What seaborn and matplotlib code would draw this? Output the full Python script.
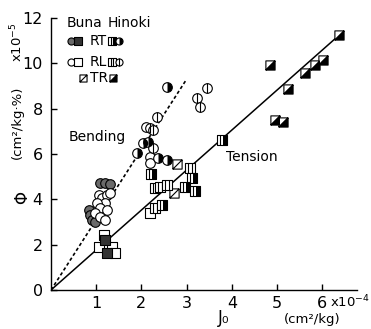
import matplotlib
matplotlib.use("Agg")
import matplotlib.pyplot as plt
from matplotlib.path import Path
from matplotlib.markers import MarkerStyle
import seaborn as sns

# ---------------- data ----------------
buna_rt_circle_x = [1.09, 1.20, 1.31, 0.83, 0.87, 0.91, 0.98]
buna_rt_circle_y = [4.71, 4.74, 4.68, 3.53, 3.31, 3.09, 3.02]
buna_rl_circle_x = [1.06, 1.13, 1.24, 1.31, 1.20, 1.02, 1.09, 1.24, 0.98, 1.09, 1.20, 2.09, 2.19, 2.19]
buna_rl_circle_y = [4.19, 4.05, 4.19, 4.27, 3.83, 3.83, 3.61, 3.53, 3.39, 3.24, 3.09, 7.21, 5.86, 5.59]
buna_rt_square_x = [1.20, 1.24]
buna_rt_square_y = [2.21, 1.62]
buna_rl_square_x = [1.17, 1.06, 1.35, 1.42, 2.19]
buna_rl_square_y = [2.43, 1.91, 1.91, 1.62, 3.39]
buna_tr_x = [2.78, 2.71]
buna_tr_y = [5.55, 4.27]
hinoki_rt_square_x = [3.78, 2.21, 3.11, 2.96, 3.19, 2.45]
hinoki_rt_square_y = [6.62, 5.13, 4.93, 4.53, 4.38, 3.75]
hinoki_rl_square_x = [3.07, 2.30, 2.41, 2.56, 2.30]
hinoki_rl_square_y = [5.37, 4.49, 4.56, 4.64, 3.61]
hinoki_rt_circle_x = [2.56, 2.04, 2.15, 1.90, 2.37, 2.56]
hinoki_rt_circle_y = [8.95, 6.48, 6.55, 6.03, 5.81, 5.74]
hinoki_rl_circle_x = [3.44, 3.22, 3.30, 2.35, 2.19, 2.26, 2.26]
hinoki_rl_circle_y = [8.90, 8.46, 8.07, 7.62, 7.14, 7.06, 6.25]
hinoki_tr_x = [6.36, 4.85, 5.62, 5.84, 6.02, 5.24, 4.96, 5.14]
hinoki_tr_y = [11.26, 9.93, 9.59, 9.93, 10.15, 8.86, 7.50, 7.43]

tension_line_x = [0, 6.35]
tension_line_y = [0, 11.2]
bending_line_x = [0, 3.0]
bending_line_y = [0, 9.3]

x_ticks = [1, 2, 3, 4, 5, 6]
y_ticks = [0, 2, 4, 6, 8, 10, 12]

# ---------------- marker shapes ----------------
def square_path(lines=()):
    verts = [(-1, -1), (1, -1), (1, 1), (-1, 1), (-1, -1)]
    codes = [Path.MOVETO, Path.LINETO, Path.LINETO, Path.LINETO, Path.CLOSEPOLY]
    for a, b in lines:
        verts += [a, b]
        codes += [Path.MOVETO, Path.LINETO]
    return Path(verts, codes)

SQ = square_path()
SQ_V = square_path([((-0.33, -1), (-0.33, 1)), ((0.33, -1), (0.33, 1))])
SQ_D = square_path([((-1, -1), (1, 1))])
HALF_RECT = Path([(0.3, -1), (1, -1), (1, 1), (0.3, 1), (0.3, -1)],
                 [Path.MOVETO, Path.LINETO, Path.LINETO, Path.LINETO, Path.CLOSEPOLY])
TRI = Path([(-1, -1), (1, -1), (1, 1), (-1, -1)],
           [Path.MOVETO, Path.LINETO, Path.LINETO, Path.CLOSEPOLY])
CIRC_R = MarkerStyle('o', fillstyle='right')

sns.set_style("ticks")
plt.rcParams['font.family'] = ['DejaVu Sans']

fig = plt.figure(figsize=(3.71, 3.29), dpi=100)
ax = fig.add_axes([0.1375, 0.1185, 0.825, 0.827])

LW = 0.8
SC = 48  # circle size
SS = 44  # square size


def layer(x, y, marker, s, face, edge='black', lw=LW, z=3):
    sns.scatterplot(x=x, y=y, marker=marker, s=s, color=face, edgecolor=edge,
                    linewidth=lw, ax=ax, zorder=z, legend=False)


# lines
sns.lineplot(x=tension_line_x, y=tension_line_y, ax=ax, color='black', lw=1.1, zorder=2)
sns.lineplot(x=bending_line_x, y=bending_line_y, ax=ax, color='black', lw=1.2,
             linestyle=(0, (2.0, 1.5)), zorder=2)

# points
layer(buna_rt_circle_x, buna_rt_circle_y, 'o', SC, '#6a6a6a')
layer(buna_rl_circle_x, buna_rl_circle_y, 'o', SC, 'white')
layer(buna_rl_square_x, buna_rl_square_y, SQ, SS, 'white')
layer(buna_rt_square_x, buna_rt_square_y, SQ, SS, '#333333')
layer(buna_tr_x, buna_tr_y, SQ_D, SS, 'white')
layer(hinoki_rl_square_x, hinoki_rl_square_y, SQ_V, SS, 'white')
layer(hinoki_rt_square_x, hinoki_rt_square_y, SQ_V, SS, 'white')
layer(hinoki_rt_square_x, hinoki_rt_square_y, HALF_RECT, SS, 'black', lw=0, z=3.1)
layer(hinoki_rt_circle_x, hinoki_rt_circle_y, 'o', SC, 'white')
layer(hinoki_rt_circle_x, hinoki_rt_circle_y, CIRC_R, SC, 'black', lw=0, z=3.1)
layer(hinoki_rl_circle_x, hinoki_rl_circle_y, 'o', SC, 'white')
layer(hinoki_rl_circle_x, hinoki_rl_circle_y, '|', SC, 'black', lw=LW, z=3.1)
layer(hinoki_tr_x, hinoki_tr_y, SQ_D, SS, 'white')
layer(hinoki_tr_x, hinoki_tr_y, TRI, SS, 'black', lw=0, z=3.1)

ax.set_xlim(0, 6.77)
ax.set_ylim(0, 12)
ax.set_xticks(x_ticks)
ax.set_xticklabels([str(v) for v in x_ticks])
ax.set_yticks(y_ticks)
ax.set_yticklabels([str(v) for v in y_ticks])
ax.tick_params(direction='in', length=4, width=1, labelsize=11.5, colors='black')
ax.tick_params(axis='y', pad=6)
ax.tick_params(axis='x', pad=4)
sns.despine(ax=ax)
for sp in ['left', 'bottom']:
    ax.spines[sp].set_linewidth(1.0)
    ax.spines[sp].set_color('black')
ax.set_xlabel('')
ax.set_ylabel('')

# annotations
W, H = 371.0, 329.0
def ftext(px, py, s, **kw):
    fig.text(px / W, 1 - py / H, s, ha='center', va='center', color='black', **kw)

ftext(97, 137, 'Bending', fontsize=10)
ftext(252, 157, 'Tension', fontsize=10)
ftext(22, 198, 'Φ', fontsize=12, rotation=90)
ftext(17, 122, '(cm²/kg·%)', fontsize=9.5, rotation=90)
ftext(17, 42, 'x10$^{-5}$', fontsize=9.5, rotation=90)
ftext(224, 318, 'J₀', fontsize=12)
ftext(350, 302, 'x10$^{-4}$', fontsize=9.5)
ftext(312, 320, '(cm²/kg)', fontsize=9.5)

# legend (drawn by hand in figure pixel coords)
ftext(85, 23, 'Buna', fontsize=10)
ftext(129, 23, 'Hinoki', fontsize=10)
ftext(98, 41, 'RT', fontsize=10)
ftext(98, 62, 'RL', fontsize=10)
ftext(99, 78, 'TR', fontsize=10)

LS = 26
def lmark(px, py, marker, face, lw=LW, z=5):
    ax.scatter([px / W], [1 - py / H], transform=fig.transFigure, marker=marker, s=LS,
               facecolor=face, edgecolor='black', linewidth=lw, zorder=z, clip_on=False)

lmark(71, 41, 'o', '#6a6a6a')
lmark(78, 41, SQ, '#333333')
lmark(112, 41, SQ_V, 'white')
lmark(112, 41, HALF_RECT, 'black', lw=0, z=6)
lmark(119, 41, 'o', 'white')
lmark(119, 41, CIRC_R, 'black', lw=0, z=6)
lmark(71, 62, 'o', 'white')
lmark(78, 62, SQ, 'white')
lmark(112, 62, SQ_V, 'white')
lmark(119, 62, 'o', 'white')
lmark(119, 62, '|', 'black', z=6)
lmark(83, 78, SQ_D, 'white')
lmark(113, 78, SQ_D, 'white')
lmark(113, 78, TRI, 'black', lw=0, z=6)

fig.savefig('out.png', dpi=100)
